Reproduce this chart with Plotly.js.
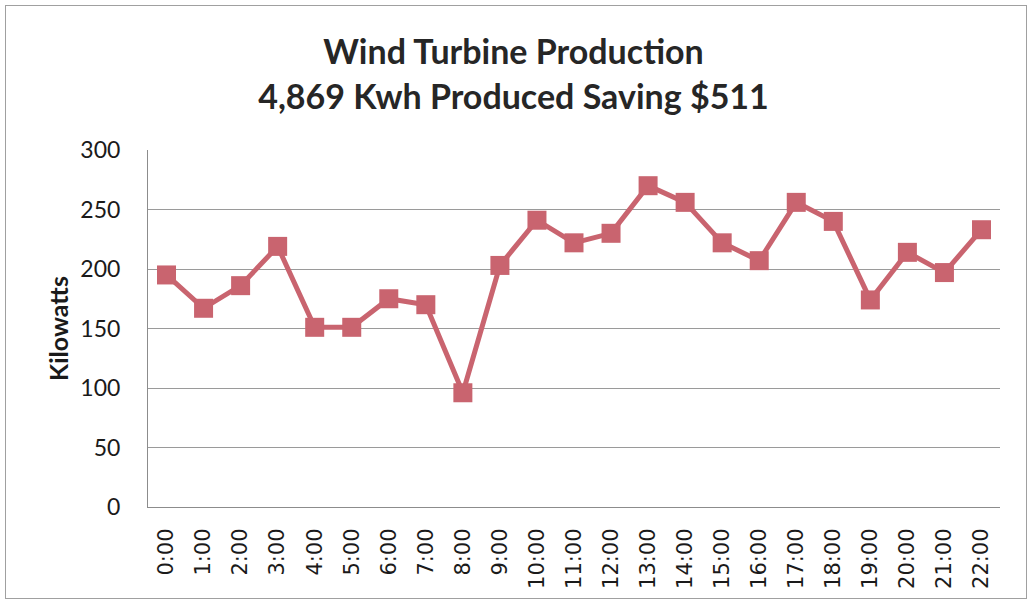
<!DOCTYPE html>
<html>
<head>
<meta charset="utf-8">
<script src="https://cdn.plot.ly/plotly-3.0.1.min.js"></script>
<style>
html,body{margin:0;padding:0;background:#fff;}
#wrap{position:relative;width:1027px;height:602px;}
#chart{position:absolute;left:0;top:0;width:1027px;height:602px;}
#frame{position:absolute;left:5px;top:5px;width:1020px;height:592px;border:1px solid #a0a0a0;pointer-events:none;}
</style>
</head>
<body>
<div id="wrap"><div id="chart"></div><div id="frame"></div></div>
<script>
const hours = ["0:00","1:00","2:00","3:00","4:00","5:00","6:00","7:00","8:00","9:00","10:00","11:00","12:00","13:00","14:00","15:00","16:00","17:00","18:00","19:00","20:00","21:00","22:00"];
const kilowatts = [195,167,186,219,151,151,175,170,96,203,241,222,230,270,256,222,207,256,240,174,214,197,233];
const yTicks = [0,50,100,150,200,250,300];
const titleLines = ["Wind Turbine Production","4,869 Kwh Produced Saving $511"];
const yTitle = "Kilowatts";

const col = '#c9646f';
Plotly.newPlot('chart', [{
  type:'scatter', mode:'lines+markers',
  x:hours, y:kilowatts,
  line:{color:col, width:5},
  marker:{symbol:'square', size:19, color:col},
  hoverinfo:'x+y'
}], {
  width:1027, height:602,
  margin:{l:148, r:27, t:150, b:95},
  paper_bgcolor:'#fff', plot_bgcolor:'#fff',
  showlegend:false,
  title:{text:titleLines.join('<br>'), x:0.5, xanchor:'center', y:0.893, yanchor:'middle',
    font:{family:'Lato, "Open Sans", sans-serif', size:34, color:'#262626', weight:'bold'}},
  xaxis:{type:'category', tickangle:-90, showgrid:false, showline:true, linecolor:'#8c8c8c', linewidth:1,
    ticks:'', ticklabelstandoff:12,
    tickfont:{family:'"DejaVu Sans", sans-serif', size:21, color:'#1a1a1a'}, range:[-0.5,22.5]},
  yaxis:{range:[0,300], tickvals:yTicks, showgrid:true, gridcolor:'#9a9a9a', gridwidth:1,
    showline:true, linecolor:'#8c8c8c', linewidth:1, zeroline:false, ticks:'', ticklabelstandoff:22,
    tickfont:{family:'Lato, "Open Sans", sans-serif', size:23, color:'#1a1a1a'},
    title:{text:yTitle, standoff:4, font:{family:'Lato, "Open Sans", sans-serif', size:25, color:'#1a1a1a', weight:'bold'}}}
}, {displayModeBar:false});
</script>
</body>
</html>
